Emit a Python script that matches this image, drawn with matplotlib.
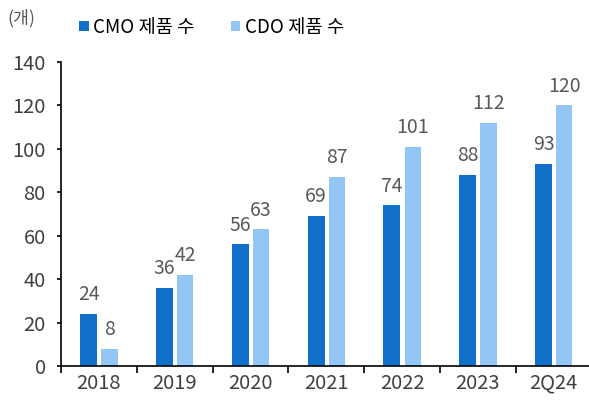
import matplotlib.pyplot as plt
import numpy as np

plt.rcParams['font.family'] = ['Noto Sans CJK KR', 'DejaVu Sans']

years = ['2018', '2019', '2020', '2021', '2022', '2023', '2Q24']
cmo = [24, 36, 56, 69, 74, 88, 93]
cdo = [8, 42, 63, 87, 101, 112, 120]

dark = '#1170C9'
light = '#94C6F5'
gray = '#595959'

fig = plt.figure(figsize=(5.89, 4.01), dpi=100)
ax = fig.add_axes([0.1036, 0.0873, 0.9008, 0.7581])

x = np.arange(len(years))
w = 0.225
b1 = ax.bar(x - 0.135, cmo, w, color=dark, label='CMO 제품 수')
b2 = ax.bar(x + 0.14, cdo, w * 0.95, color=light, label='CDO 제품 수')

for rect, v in zip(b1, cmo):
    ax.text(rect.get_x() + rect.get_width() / 2, v + 4, str(v),
            ha='center', va='bottom', fontsize=14, color=gray)
for rect, v in zip(b2, cdo):
    ax.text(rect.get_x() + rect.get_width() / 2, v + 4, str(v),
            ha='center', va='bottom', fontsize=14, color=gray)

ax.set_xlim(-0.5, len(years) - 0.5)
ax.set_ylim(0, 140)
ax.set_yticks(range(0, 141, 20))
ax.set_xticks(x)
ax.set_xticklabels(years)
ax.set_xticks(np.arange(-0.5, len(years), 1), minor=True)
ax.tick_params(axis='x', which='major', length=0, labelsize=14.5, labelcolor='#404040', pad=5)
ax.tick_params(axis='x', which='minor', length=5, direction='out', width=1.2)
ax.tick_params(axis='y', length=3, width=1.2, labelsize=14.5, labelcolor='#404040', pad=8)

for s in ['top', 'right']:
    ax.spines[s].set_visible(False)
ax.spines['left'].set_linewidth(1.2)
ax.spines['bottom'].set_linewidth(1.2)

fig.text(0.012, 0.955, '(개)', fontsize=12.5, color=gray, va='center')
fig.legend(loc='center left', bbox_to_anchor=(0.122, 0.932), ncol=2, frameon=False,
           fontsize=13.5, handlelength=0.5, handleheight=0.5, handletextpad=0.25,
           columnspacing=1.9, borderaxespad=0)

fig.savefig('out.png', dpi=100)
